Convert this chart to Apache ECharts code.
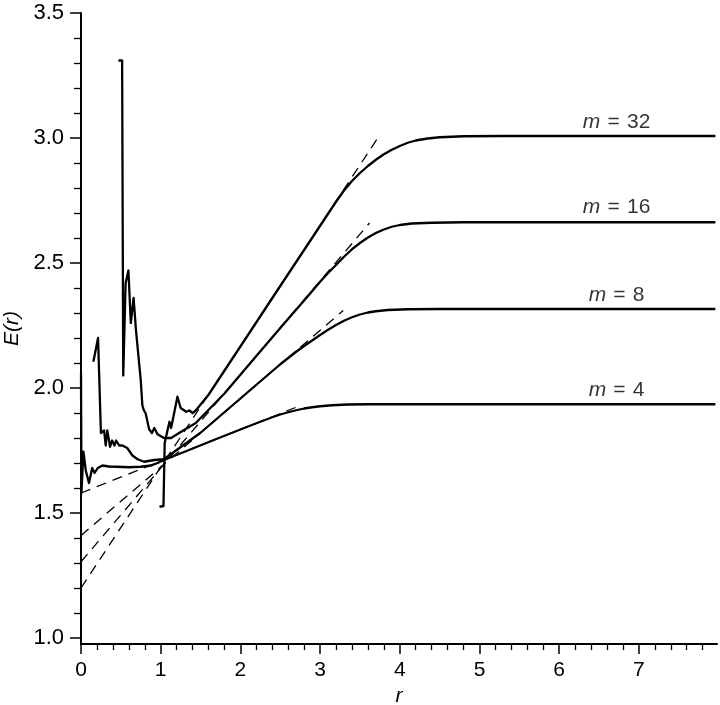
<!DOCTYPE html>
<html>
<head>
<meta charset="utf-8">
<script src="https://cdn.jsdelivr.net/npm/echarts@6/dist/echarts.min.js"></script>
<style>html,body{margin:0;padding:0;background:#fff;}#c{width:720px;height:705px;}</style>
</head>
<body>
<div id="c"></div>
<script>
// ---- data ----
const curveM4 = [[0.0,2.06],[0.006,1.58],[0.03,1.745],[0.06,1.67],[0.10,1.62],[0.14,1.68],[0.17,1.66],[0.21,1.68],[0.27,1.69],[0.35,1.686],[0.45,1.685],[0.6,1.683],[0.75,1.685],[0.88,1.69],[0.96,1.70],[1.04,1.712],[1.3,1.745],[1.69,1.795],[2.0,1.834],[2.2,1.859],[2.3,1.871],[2.4,1.883],[2.5,1.894],[2.6,1.903],[2.7,1.911],[2.8,1.918],[2.9,1.923],[3.0,1.927],[3.15,1.931],[3.35,1.934],[3.6,1.935],[5.0,1.935],[7.96,1.935]];
const curveM8 = [[0.155,2.105],[0.214,2.20],[0.25,1.82],[0.29,1.83],[0.31,1.77],[0.33,1.83],[0.365,1.765],[0.39,1.79],[0.42,1.77],[0.44,1.79],[0.48,1.77],[0.52,1.77],[0.58,1.76],[0.645,1.73],[0.71,1.715],[0.79,1.705],[0.92,1.712],[1.04,1.715],[1.5,1.821],[2.0,1.958],[2.5,2.095],[2.7,2.145],[2.8,2.168],[2.9,2.19],[3.0,2.212],[3.1,2.233],[3.2,2.252],[3.3,2.269],[3.4,2.283],[3.5,2.294],[3.6,2.302],[3.7,2.307],[3.85,2.312],[4.1,2.315],[4.5,2.316],[7.96,2.316]];
const curveM16 = [[0.47,3.31],[0.516,3.31],[0.53,2.05],[0.56,2.42],[0.595,2.47],[0.625,2.26],[0.66,2.36],[0.69,2.23],[0.75,2.03],[0.77,1.93],[0.79,1.91],[0.81,1.90],[0.855,1.835],[0.89,1.82],[0.92,1.84],[0.96,1.815],[1.04,1.80],[1.13,1.80],[1.23,1.82],[1.44,1.86],[1.8,1.978],[2.2,2.128],[2.6,2.277],[2.8,2.35],[3.0,2.425],[3.1,2.46],[3.2,2.492],[3.3,2.525],[3.4,2.555],[3.5,2.58],[3.6,2.602],[3.7,2.62],[3.8,2.634],[3.9,2.645],[4.0,2.652],[4.15,2.658],[4.4,2.661],[4.8,2.663],[7.96,2.663]];
const curveM32 = [[0.985,1.525],[1.035,1.528],[1.045,1.535],[1.05,1.78],[1.085,1.83],[1.11,1.865],[1.13,1.84],[1.15,1.87],[1.21,1.965],[1.23,1.96],[1.25,1.92],[1.27,1.925],[1.32,1.905],[1.36,1.91],[1.40,1.90],[1.44,1.91],[1.6,1.973],[2.0,2.166],[2.5,2.408],[2.87,2.586],[3.1,2.697],[3.2,2.745],[3.3,2.79],[3.4,2.828],[3.5,2.86],[3.6,2.888],[3.7,2.913],[3.8,2.935],[3.9,2.953],[4.0,2.968],[4.1,2.981],[4.2,2.99],[4.35,2.998],[4.5,3.003],[4.8,3.007],[5.3,3.008],[7.96,3.008]];
// dashed tangent lines: [start point, end point]
const tangentM4 = [[0,1.58],[2.74,1.928]];
const tangentM8 = [[0,1.41],[3.29,2.31]];
const tangentM16 = [[0,1.305],[3.62,2.66]];
const tangentM32 = [[0,1.20],[3.74,3.008]];
// curve labels
const labelTexts = ['32','16','8','4'];
const labelPoints = [[6.72,3.064],[6.72,2.724],[6.72,2.372],[6.72,1.992]];
// ticks
const xMajorTicks = [0,1,2,3,4,5,6,7];
const xMinorTicks = [0.2,0.4,0.6,0.8,1.2,1.4,1.6,1.8,2.2,2.4,2.6,2.8,3.2,3.4,3.6,3.8,4.2,4.4,4.6,4.8,5.2,5.4,5.6,5.8,6.2,6.4,6.6,6.8,7.2,7.4,7.6,7.8];
const yMajorTicks = [1.0,1.5,2.0,2.5,3.0,3.5];
const yMinorTicks = [1.1,1.2,1.3,1.4,1.6,1.7,1.8,1.9,2.1,2.2,2.3,2.4,2.6,2.7,2.8,2.9,3.1,3.2,3.3,3.4];

const FONT = "'Liberation Sans', Arial, Helvetica, sans-serif";
const X_MIN = 0, X_MAX = 7.98, Y_MIN = 0.976, Y_MAX = 3.5;

const chart = echarts.init(document.getElementById('c'), null, {renderer:'canvas'});

const solid = (data) => ({type:'line', data, showSymbol:false, symbol:'none', silent:true, animation:false,
  lineStyle:{color:'#000', width:2.3, join:'round'}});
const dashed = (data) => ({type:'line', data, showSymbol:false, symbol:'none', silent:true, animation:false,
  lineStyle:{color:'#000', width:1.3, type:[10,7]}});

const option = {
  backgroundColor:'#fff',
  animation:false,
  grid:{left:81, right:3, top:13, bottom:61, containLabel:false, outerBoundsMode:'none'},
  xAxis:[
    {type:'value', min:X_MIN, max:X_MAX, position:'bottom',
     name:'r', nameLocation:'middle', nameGap:42,
     nameTextStyle:{fontFamily:FONT, fontSize:21, fontStyle:'italic', color:'#000'},
     axisLine:{show:true, lineStyle:{color:'#000', width:2}},
     axisTick:{show:true, inside:false, length:10, customValues:xMajorTicks, lineStyle:{color:'#000', width:1.5}},
     axisLabel:{show:true, customValues:xMajorTicks, margin:16, fontFamily:FONT, fontSize:21, color:'#000', formatter:v=>String(v)},
     splitLine:{show:false}},
    {type:'value', min:X_MIN, max:X_MAX, position:'bottom',
     axisLine:{show:false},
     axisTick:{show:true, inside:false, length:6, customValues:xMinorTicks, lineStyle:{color:'#000', width:1.3}},
     axisLabel:{show:false}, splitLine:{show:false}}
  ],
  yAxis:[
    {type:'value', min:Y_MIN, max:Y_MAX, position:'left',
     name:'E(r)', nameLocation:'middle', nameGap:57, nameRotate:90,
     nameTextStyle:{fontFamily:FONT, fontSize:21, fontStyle:'italic', color:'#000'},
     axisLine:{show:true, lineStyle:{color:'#000', width:2}},
     axisTick:{show:true, inside:false, length:11, customValues:yMajorTicks, lineStyle:{color:'#000', width:1.5}},
     axisLabel:{show:true, customValues:yMajorTicks, margin:17, fontFamily:FONT, fontSize:22, color:'#000', formatter:v=>v.toFixed(1)},
     splitLine:{show:false}},
    {type:'value', min:Y_MIN, max:Y_MAX, position:'left',
     axisLine:{show:false},
     axisTick:{show:true, inside:false, length:7, customValues:yMinorTicks, lineStyle:{color:'#000', width:1.3}},
     axisLabel:{show:false}, splitLine:{show:false}}
  ],
  series:[
    dashed(tangentM4), dashed(tangentM8), dashed(tangentM16), dashed(tangentM32),
    solid(curveM4), solid(curveM8), solid(curveM16), solid(curveM32),
    {type:'scatter', silent:true, animation:false, symbolSize:1, itemStyle:{color:'rgba(0,0,0,0)'},
     data: labelPoints.map((p,i)=>({value:p, name:labelTexts[i]})),
     label:{show:true, position:'inside', fontFamily:FONT, fontSize:21, color:'#000',
       formatter:(p)=>'{i|m}{s| }={s| }' + p.name,
       rich:{i:{fontFamily:FONT, fontSize:21, fontStyle:'italic', color:'#000'},
             s:{fontFamily:FONT, fontSize:26, color:'#000'}}}}
  ]
};
chart.setOption(option);
</script>
</body>
</html>
